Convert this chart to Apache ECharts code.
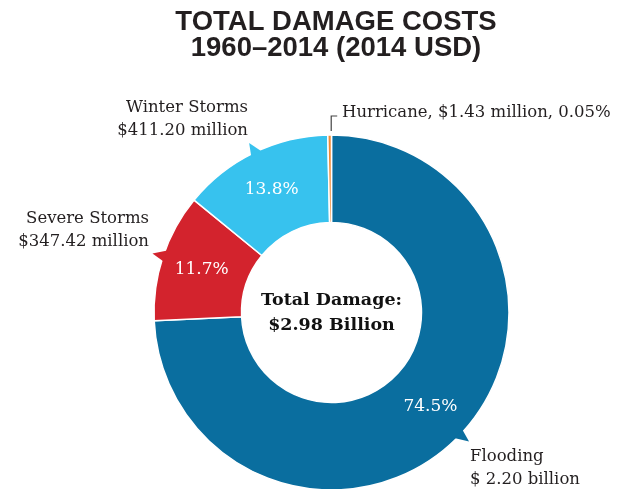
<!DOCTYPE html>
<html>
<head>
<meta charset="utf-8">
<script src="https://cdn.jsdelivr.net/npm/echarts@6/dist/echarts.min.js"></script>
<style>
  html, body { margin: 0; padding: 0; background: #ffffff; }
  #chart { width: 631px; height: 489px; }
</style>
</head>
<body>
<div id="chart"></div>
<script>
// Damage categories, clockwise from 12 o'clock
const categories = ['Flooding', 'Severe Storms', 'Winter Storms', 'Hurricane'];
// Share of total damage, percent
const shares = [74.5, 11.7, 13.8, 0.05];
// Dollar amounts as printed
const amounts = ['$ 2.20 billion', '$347.42 million', '$411.20 million', '$1.43 million'];
const sliceColors = ['#0a6e9f', '#d3232d', '#37c2ee', '#f08a34'];
const titleLines = ['TOTAL DAMAGE COSTS', '1960\u20132014 (2014 USD)'];
const centerLines = ['Total Damage:', '$2.98 Billion'];

const CX = 331.5, CY = 312.5, R_IN = 90, R_OUT = 177.5;
const SERIF = '"DejaVu Serif", Georgia, serif';
const INK = '#231f20';

const total = shares.reduce((a, b) => a + b, 0);
// mid angle of each slice in degrees, clockwise from top
const midAngles = [];
let acc = 0;
shares.forEach(v => { midAngles.push((acc + v / 2) / total * 360); acc += v; });

function polar(deg, r) {
  const t = deg * Math.PI / 180;
  return [CX + r * Math.sin(t), CY - r * Math.cos(t)];
}

// small callout tails on the outer rim of the three large slices
const tails = [0, 1, 2].map(i => {
  const m = midAngles[i];
  return {
    type: 'polygon',
    z: 10,
    shape: { points: [polar(m - 2.2, R_OUT - 2), polar(m - 0.9, R_OUT + 11), polar(m + 1.6, R_OUT - 2)] },
    style: { fill: sliceColors[i] }
  };
});

// bracket leader for the hurricane sliver
const hTop = polar(midAngles[3], R_OUT + 4);
const hurricaneLeader = {
  type: 'polyline',
  shape: { points: [hTop, [hTop[0], hTop[1] - 15], [hTop[0] + 6, hTop[1] - 15]] },
  style: { stroke: '#444', lineWidth: 1.2, fill: null }
};

const labelFont = '16.5px ' + SERIF;
function textBlock(lines, x, y, align) {
  return lines.map((s, k) => ({
    type: 'text', x: x, y: y + k * 23,
    style: { text: s, font: labelFont, fill: INK, align: align, verticalAlign: 'middle' }
  }));
}

const chart = echarts.init(document.getElementById('chart'), null, { renderer: 'canvas' });
chart.setOption({
  backgroundColor: '#ffffff',
  animation: false,
  graphic: [
    ...titleLines.map((s, k) => ({
      type: 'text', x: 336, y: 22 + k * 26,
      style: { text: s, font: 'bold 27.5px "Liberation Sans", Arial, sans-serif', fill: INK, align: 'center', verticalAlign: 'middle' }
    })),
    ...centerLines.map((s, k) => ({
      type: 'text', x: CX, y: 300 + k * 25,
      style: { text: s, font: 'bold 17.5px ' + SERIF, fill: '#111', align: 'center', verticalAlign: 'middle' }
    })),
    ...tails,
    hurricaneLeader,
    ...textBlock([categories[2], amounts[2]], 248, 108, 'right'),
    ...textBlock([categories[1], amounts[1]], 149, 219, 'right'),
    ...textBlock([categories[0], amounts[0]], 470, 457, 'left'),
    ...textBlock([categories[3] + ', ' + amounts[3] + ', ' + shares[3] + '%'], 342, 113, 'left')
  ],
  series: [{
    type: 'pie',
    center: [CX, CY],
    radius: [R_IN, R_OUT],
    startAngle: 90,
    clockwise: true,
    minAngle: 1.2,
    avoidLabelOverlap: false,
    itemStyle: { borderColor: '#ffffff', borderWidth: 1.5 },
    label: {
      show: true,
      position: 'inside',
      color: '#ffffff',
      fontFamily: 'DejaVu Serif',
      fontSize: 17,
      formatter: p => p.dataIndex === 3 ? '' : shares[p.dataIndex].toFixed(1) + '%'
    },
    labelLine: { show: false },
    emphasis: { disabled: true },
    data: categories.map((c, i) => ({ name: c, value: shares[i], itemStyle: { color: sliceColors[i] } }))
  }]
});
</script>
</body>
</html>
